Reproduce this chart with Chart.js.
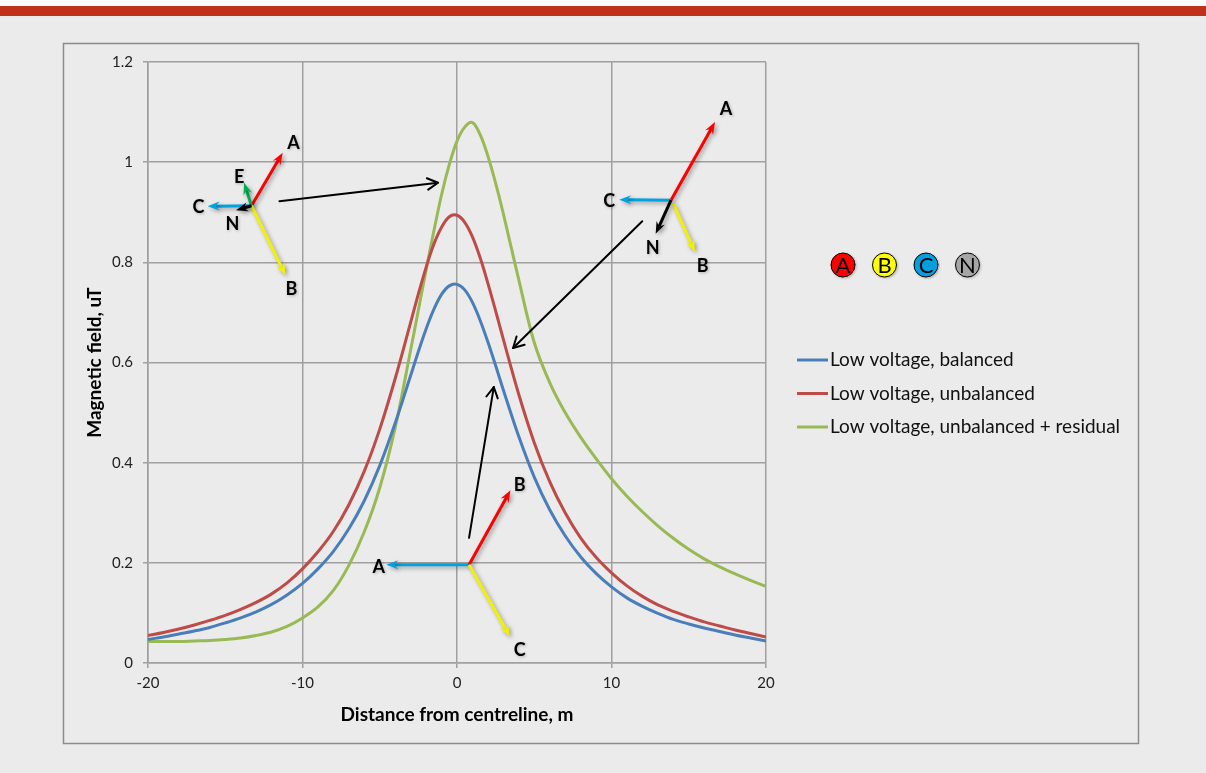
<!DOCTYPE html>
<html><head><meta charset="utf-8">
<script src="https://cdn.jsdelivr.net/npm/chart.js@4.4.0/dist/chart.umd.min.js"></script>
<style>html,body{margin:0;padding:0;background:#ebebeb;overflow:hidden}
#wrap{position:absolute;left:0;top:0;width:1206px;height:773px}
#c{display:block;width:1206px;height:773px}</style>
</head><body><div id="wrap"><canvas id="c" width="1206" height="773"></canvas></div>
<script>
// ---- data ----
const distance = [-20,-19,-18,-17,-16,-15,-14,-13,-12,-11,-10,-9,-8,-7,-6,-5,-4,-3,-2.5,-2,-1.5,-1,-0.5,0,0.5,1,1.5,2,2.5,3,4,5,6,7,8,9,10,11,12,13,14,15,16,17,18,19,20];
const balanced = [0.047,0.052,0.058,0.064,0.071,0.080,0.090,0.102,0.117,0.136,0.159,0.188,0.223,0.268,0.324,0.394,0.479,0.574,0.622,0.667,0.706,0.736,0.753,0.756,0.745,0.720,0.684,0.641,0.594,0.545,0.452,0.371,0.306,0.254,0.212,0.179,0.152,0.130,0.113,0.099,0.087,0.078,0.070,0.063,0.056,0.050,0.044];
const unbalanced = [0.055,0.061,0.068,0.076,0.085,0.095,0.107,0.121,0.138,0.160,0.188,0.222,0.263,0.316,0.383,0.467,0.568,0.680,0.737,0.790,0.836,0.870,0.891,0.894,0.880,0.851,0.809,0.758,0.703,0.646,0.536,0.440,0.362,0.300,0.250,0.211,0.180,0.154,0.133,0.116,0.103,0.092,0.082,0.074,0.066,0.059,0.052];
const residual = [0.043,0.043,0.043,0.044,0.045,0.047,0.050,0.055,0.062,0.073,0.090,0.112,0.145,0.195,0.262,0.350,0.470,0.625,0.705,0.785,0.862,0.935,0.995,1.042,1.070,1.079,1.055,1.012,0.958,0.897,0.765,0.640,0.560,0.500,0.451,0.408,0.368,0.333,0.302,0.274,0.249,0.227,0.208,0.192,0.178,0.165,0.153];
const seriesNames = ['Low voltage, balanced','Low voltage, unbalanced','Low voltage, unbalanced + residual'];
const yTickLabels = ['0','0.2','0.4','0.6','0.8','1','1.2'];
const xTickLabels = ['-20','-10','0','10','20'];
const phaseKeys = ['A','B','C','N'];

// ---- styling / annotations (not data) ----
const lineColors = ['#4A7EBB','#BE4B48','#98B954'];
const PH = {red:'#FF0000', yel:'#F2F200', blu:'#00A2E0', grn:'#00B050', blk:'#000000'};
const phasors = [
  {o:[-13.3,0.913], arms:[
    {to:[-11.28,1.019], c:PH.red, t:'A', l:[-10.58,1.038]},
    {to:[-13.78,0.959], c:PH.grn, t:'E', l:[-14.1,0.971]},
    {to:[-16.14,0.912], c:PH.blu, t:'C', l:[-16.74,0.911]},
    {to:[-11.1,0.774], c:PH.yel, t:'B', l:[-10.71,0.746]},
    {to:[-14.3,0.904], c:PH.blk, t:'N', l:[-14.54,0.876]}]},
  {o:[13.85,0.924], arms:[
    {to:[16.7,1.080], c:PH.red, t:'A', l:[17.41,1.105]},
    {to:[10.5,0.925], c:PH.blu, t:'C', l:[9.85,0.922]},
    {from:[14.0,0.917], to:[15.4,0.821], c:PH.yel, t:'B', l:[15.9,0.793]},
    {to:[12.86,0.857], c:PH.blk, t:'N', l:[12.66,0.829]}]},
  {o:[0.78,0.196], arms:[
    {to:[-4.58,0.196], c:PH.blu, t:'A', l:[-5.07,0.192]},
    {to:[3.46,0.345], c:PH.red, t:'B', l:[4.06,0.356]},
    {to:[3.42,0.053], c:PH.yel, t:'C', l:[4.06,0.025]}]}
];
const pointers = [
  {from:[-11.49,0.922], to:[-1.23,0.959]},
  {from:[11.99,0.882], to:[3.63,0.629]},
  {from:[0.78,0.250], to:[2.38,0.551]}
];
const keyColors = ['#FF0000','#FFFF00','#00A0E0','#A6A6A6'];

function solidArrow(ctx,x1,y1,x2,y2,color,w){
  const a=Math.atan2(y2-y1,x2-x1), hl=10, hw=4.5;
  const bx=x2-hl*Math.cos(a), by=y2-hl*Math.sin(a);
  ctx.strokeStyle=color; ctx.fillStyle=color; ctx.lineWidth=w; ctx.lineCap='butt';
  ctx.beginPath(); ctx.moveTo(x1,y1); ctx.lineTo(bx+2*Math.cos(a),by+2*Math.sin(a)); ctx.stroke();
  ctx.beginPath(); ctx.moveTo(x2,y2);
  ctx.lineTo(bx+hw*Math.sin(a)-2*Math.cos(a), by-hw*Math.cos(a)-2*Math.sin(a));
  ctx.lineTo(bx+2*Math.cos(a),by+2*Math.sin(a));
  ctx.lineTo(bx-hw*Math.sin(a)-2*Math.cos(a), by+hw*Math.cos(a)-2*Math.sin(a));
  ctx.closePath(); ctx.fill();
}
function openArrow(ctx,x1,y1,x2,y2){
  const a=Math.atan2(y2-y1,x2-x1), hl=12, sp=0.5;
  ctx.strokeStyle='#000'; ctx.lineWidth=2; ctx.lineCap='round'; ctx.lineJoin='round';
  ctx.beginPath(); ctx.moveTo(x1,y1); ctx.lineTo(x2,y2); ctx.stroke();
  ctx.beginPath();
  ctx.moveTo(x2-hl*Math.cos(a-sp), y2-hl*Math.sin(a-sp));
  ctx.lineTo(x2,y2);
  ctx.lineTo(x2-hl*Math.cos(a+sp), y2-hl*Math.sin(a+sp));
  ctx.stroke();
}

const framePlugin = {
  id:'frame',
  beforeDraw(chart){
    const ctx=chart.ctx; ctx.save();
    ctx.fillStyle='#ffffff'; ctx.fillRect(0,0,1206,6);
    ctx.fillStyle='#C0311A'; ctx.fillRect(0,6,1206,10);
    ctx.fillStyle='#EBEBEB'; ctx.fillRect(0,16,1206,757);
    ctx.strokeStyle='#8C8C8C'; ctx.lineWidth=1.5; ctx.strokeRect(63.5,43.5,1075,700);
    ctx.restore();
  },
  afterDatasetsDraw(chart){
    const ctx=chart.ctx, xs=chart.scales.x, ys=chart.scales.y;
    const P=(p)=>[xs.getPixelForValue(p[0]), ys.getPixelForValue(p[1])];
    ctx.save();
    pointers.forEach(p=>{const a=P(p.from), b=P(p.to); openArrow(ctx,a[0],a[1],b[0],b[1]);});
    phasors.forEach(ph=>{
      const o=P(ph.o);
      ph.arms.forEach(arm=>{
        const s=arm.from?P(arm.from):o, e=P(arm.to);
        ctx.save();
        ctx.shadowColor='rgba(0,0,0,0.35)'; ctx.shadowBlur=4; ctx.shadowOffsetX=2; ctx.shadowOffsetY=2;
        solidArrow(ctx,s[0],s[1],e[0],e[1],arm.c,3);
        ctx.restore();
      });
      ph.arms.forEach(arm=>{
        const l=P(arm.l);
        ctx.save();
        ctx.shadowColor='rgba(0,0,0,0.25)'; ctx.shadowBlur=3; ctx.shadowOffsetX=1; ctx.shadowOffsetY=1;
        ctx.fillStyle='#000'; ctx.font='bold 18px Lato'; ctx.textAlign='center'; ctx.textBaseline='middle';
        ctx.fillText(arm.t,l[0],l[1]);
        ctx.restore();
      });
    });
    const keyX=[843,884.5,926,967.5], keyY=265;
    phaseKeys.forEach((k,i)=>{
      ctx.save();
      ctx.shadowColor='rgba(0,0,0,0.3)'; ctx.shadowBlur=3; ctx.shadowOffsetX=1; ctx.shadowOffsetY=1;
      ctx.beginPath(); ctx.arc(keyX[i],keyY,12,0,Math.PI*2);
      ctx.fillStyle=keyColors[i]; ctx.fill();
      ctx.shadowColor='transparent';
      ctx.lineWidth=1; ctx.strokeStyle='#000'; ctx.stroke();
      ctx.fillStyle='#000'; ctx.font='22px Lato'; ctx.textAlign='center'; ctx.textBaseline='middle';
      ctx.fillText(k,keyX[i],keyY+1);
      ctx.restore();
    });
    const ly=[360,393.5,427];
    chart.data.datasets.forEach((ds,i)=>{
      ctx.strokeStyle=ds.borderColor; ctx.lineWidth=3; ctx.lineCap='butt';
      ctx.beginPath(); ctx.moveTo(797,ly[i]); ctx.lineTo(828,ly[i]); ctx.stroke();
      ctx.fillStyle='#111'; ctx.font='19px Lato'; ctx.textAlign='left'; ctx.textBaseline='middle';
      ctx.fillText(ds.label,830,ly[i]);
    });
    ctx.restore();
  }
};

const mk=(ys)=>distance.map((x,i)=>({x:x,y:ys[i]}));
new Chart(document.getElementById('c'),{
  type:'scatter',
  data:{datasets:[
    {label:seriesNames[0], data:mk(balanced), borderColor:lineColors[0]},
    {label:seriesNames[1], data:mk(unbalanced), borderColor:lineColors[1]},
    {label:seriesNames[2], data:mk(residual), borderColor:lineColors[2]}
  ].map(d=>Object.assign(d,{showLine:true,pointRadius:0,borderWidth:3,tension:0.35,backgroundColor:d.borderColor}))},
  options:{
    responsive:false, maintainAspectRatio:false, animation:false, devicePixelRatio:1,
    layout:{padding:{left:63,top:62,right:440,bottom:40}},
    plugins:{legend:{display:false},tooltip:{enabled:false}},
    scales:{
      x:{type:'linear',min:-20,max:20,
        afterFit:(s)=>{s.height=70;},
        ticks:{stepSize:10,padding:6,color:'#222',font:{family:'Lato',size:15},
          callback:(v)=>{const i=[-20,-10,0,10,20].indexOf(v);return i>=0?xTickLabels[i]:'';}},
        grid:{color:'#A0A0A0',lineWidth:1.5,tickLength:5},
        border:{color:'#A0A0A0',width:1.5},
        title:{display:true,text:'Distance from centreline, m',color:'#000',font:{family:'Lato',size:19,weight:'bold'},padding:{bottom:7}}},
      y:{min:0,max:1.2,
        afterFit:(s)=>{s.width=85;},
        ticks:{stepSize:0.2,padding:10,color:'#222',font:{family:'Lato',size:15},
          callback:(v,i)=>yTickLabels[i]},
        grid:{color:'#A0A0A0',lineWidth:1.5,tickLength:5},
        border:{color:'#A0A0A0',width:1.5},
        title:{display:true,text:'Magnetic field, uT',color:'#000',font:{family:'Lato',size:19,weight:'bold'},padding:{top:20}}}
    }
  },
  plugins:[framePlugin]
});
</script></body></html>
